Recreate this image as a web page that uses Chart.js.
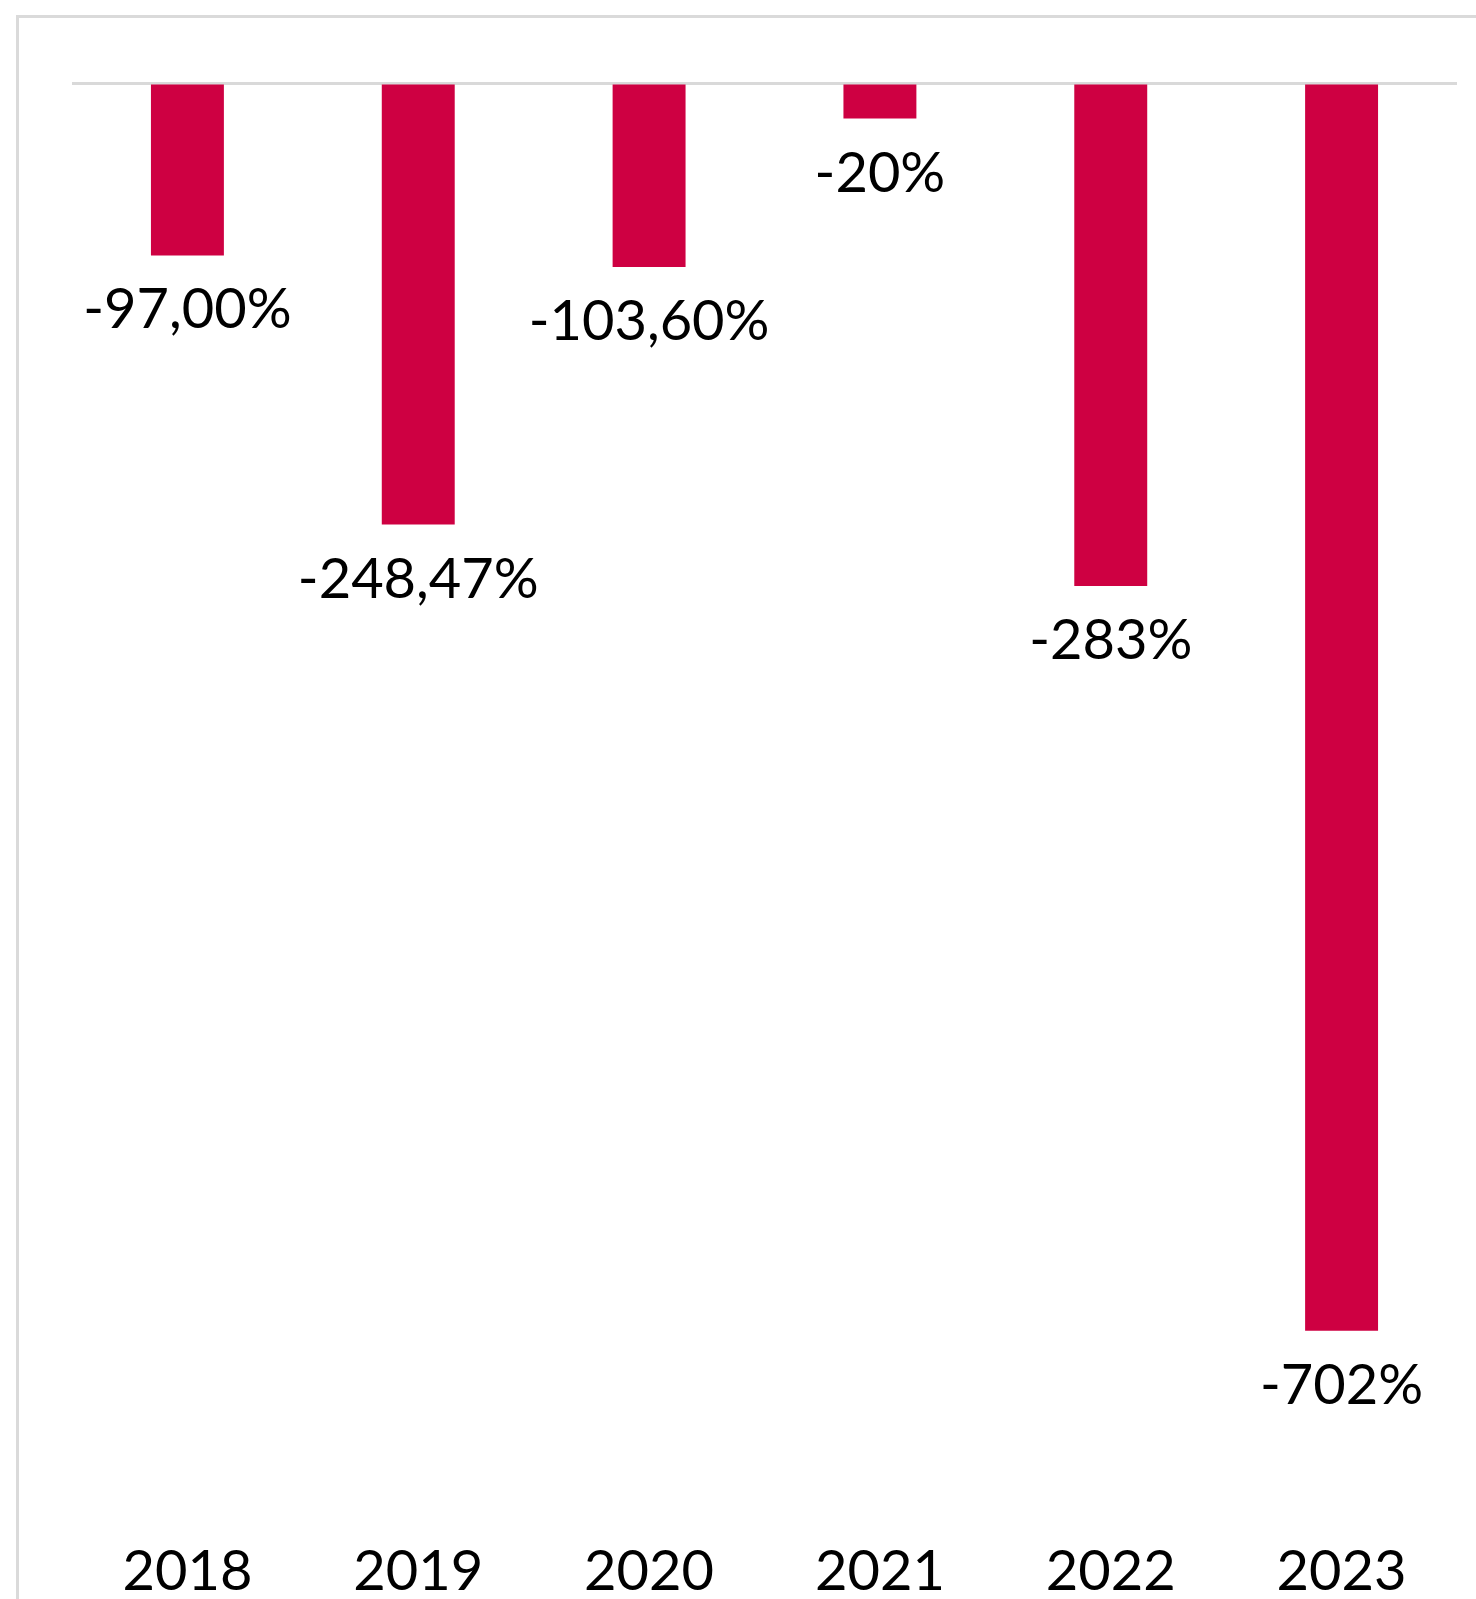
<!DOCTYPE html>
<html>
<head>
<meta charset="utf-8">
<script src="https://cdn.jsdelivr.net/npm/chart.js@4.4.1/dist/chart.umd.min.js"></script>
<style>
  html, body { margin: 0; padding: 0; background: #fff; overflow: hidden; }
  #frame {
    position: absolute; left: 16px; top: 15px; width: 3000px; height: 3000px;
    border-left: 3px solid #dadada; border-top: 3px solid #dadada;
  }
  #wrap { position: absolute; left: 0; top: 0; width: 1476px; height: 1640px; }
</style>
</head>
<body>
<div id="frame"></div>
<div id="wrap"><canvas id="lossChart"></canvas></div>
<script>
// Data
const years = ["2018", "2019", "2020", "2021", "2022", "2023"];
const values = [-97.00, -248.47, -103.60, -20, -283, -702];
const valueLabels = ["-97,00%", "-248,47%", "-103,60%", "-20%", "-283%", "-702%"];

const FONT = "Lato, 'Open Sans', sans-serif";

// draw value labels under each bar
const barLabels = {
    id: "barLabels",
    afterDatasetsDraw(chart) {
        const ctx = chart.ctx;
        const meta = chart.getDatasetMeta(0);
        ctx.save();
        ctx.font = "56px " + FONT;
        ctx.fillStyle = "#000";
        ctx.textAlign = "center";
        ctx.textBaseline = "alphabetic";
        meta.data.forEach((bar, i) => {
            ctx.fillText(valueLabels[i], bar.x, bar.y + 73);
        });
        ctx.restore();
    }
};

const lossChart = new Chart(document.getElementById("lossChart"), {
    type: "bar",
    data: {
        labels: years,
        datasets: [{
            data: values,
            backgroundColor: "#CE0042",
            barPercentage: 0.316,
            categoryPercentage: 1
        }]
    },
    options: {
        responsive: true,
        maintainAspectRatio: false,
        animation: false,
        layout: { padding: { top: 83, left: 72, right: 19, bottom: 0 } },
        plugins: { legend: { display: false }, tooltip: { enabled: false } },
        scales: {
            x: {
                grid: { display: false, drawTicks: false },
                border: { display: false },
                ticks: {
                    color: "#000",
                    font: { family: FONT, size: 56 },
                    padding: 34,
                    autoSkip: false,
                    maxRotation: 0
                }
            },
            y: {
                min: -800,
                max: 0,
                z: 1,
                border: { display: false },
                grid: {
                    drawTicks: false,
                    lineWidth: 3,
                    color: (c) => c.tick && c.tick.value === 0 ? "#d9d9d9" : "rgba(0,0,0,0)"
                },
                ticks: { display: false, stepSize: 100 }
            }
        }
    },
    plugins: [barLabels]
});
</script>
</body>
</html>
